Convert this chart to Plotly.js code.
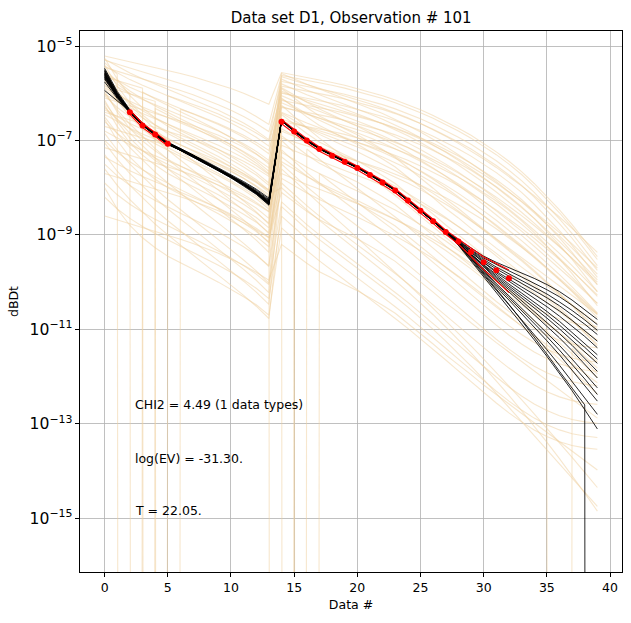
<!DOCTYPE html>
<html>
<head>
<meta charset="utf-8">
<script src="https://cdn.plot.ly/plotly-3.0.1.min.js"></script>
<style>
  html, body { margin: 0; padding: 0; background: #fff; }
  #chart { width: 631px; height: 623px; }
</style>
</head>
<body>
<div id="chart"></div>
<script>
// Gate index (Data #) for the 40 samples: 14 gates of moment 1, 26 gates of moment 2
const gateIndex = Array.from({ length: 40 }, (_, i) => i);

// Observed data (log10 dBDt) and relative standard deviation
const dataIdx = [2, 3, 4, 5, 14, 15, 16, 17, 18, 19, 20, 21, 22, 23, 24, 25, 26, 27, 28, 29, 30, 31, 32];
const dataLog = [-6.40, -6.68, -6.87, -7.07, -6.60, -6.81, -7.00, -7.18, -7.32, -7.45, -7.58, -7.73, -7.89, -8.06,
                 -8.27, -8.49, -8.71, -8.94, -9.14, -9.36, -9.58, -9.75, -9.92];
const dataRelErr = [0.10, 0.10, 0.10, 0.10, 0.10, 0.10, 0.10, 0.10, 0.10, 0.10, 0.10, 0.10, 0.10, 0.10,
                    0.10, 0.10, 0.10, 0.10, 0.12, 0.20, 0.30, 0.40, 0.50];

// Non-positive forward response (clipped to the floor on a log axis)
const N = null;

// Prior realizations, log10 dBDt per gate
const priorLog = [
  [-5.21,-5.27,-5.33,-5.39,-5.45,-5.51,-5.58,-5.65,-5.73,-5.81,-5.90,-6.00,-6.11,-6.23, -5.56,-5.61,-5.66,-5.71,-5.77,-5.83,-5.90,-5.97,-6.05,-6.14,-6.24,-6.35,-6.47,-6.60,-6.74,-6.89,-7.06,-7.24,-7.44,-7.66,-7.91,-8.18,-8.47,-8.78,-9.11,-9.46],
  [-5.30,-5.38,-5.46,-5.54,-5.62,-5.70,-5.79,-5.88,-5.98,-6.09,-6.21,-6.34,-6.49,-6.66, -5.62,-5.67,-5.72,-5.77,-5.83,-5.89,-5.96,-6.03,-6.11,-6.20,-6.30,-6.41,-6.53,-6.66,-6.80,-6.95,-7.12,-7.30,-7.50,-7.72,-7.97,-8.24,-8.53,-8.84,-9.17,-9.52],
  [-5.35,-5.60,N,-5.97,-6.12,-6.26,-6.39,-6.52,-6.65,-6.79,-6.94,-7.10,-7.28,-7.50, -5.70,-5.82,-5.93,-6.03,-6.13,-6.23,-6.33,-6.44,-6.55,-6.67,-6.80,-6.94,-7.09,-7.25,-7.42,-7.60,-7.79,-7.99,-8.20,-8.42,-8.65,-8.89,-9.14,-9.40,-9.67,-9.95],
  [-5.40,-5.85,-6.20,-6.46,-6.67,-6.85,-6.99,-7.12,-7.26,-7.40,-7.55,-7.71,-7.88,-8.10, -5.75,-5.80,-5.85,-5.90,-5.96,-6.02,-6.09,-6.16,-6.24,-6.33,-6.43,-6.54,-6.66,-6.79,-6.93,-7.08,-7.25,-7.43,-7.63,-7.85,-8.10,-8.37,-8.66,-8.97,-9.30,-9.65],
  [-5.45,-5.53,-5.61,-5.69,-5.77,-5.85,-5.94,-6.03,-6.13,-6.24,-6.36,-6.49,-6.64,-6.81, -5.80,-5.92,-6.03,-6.13,-6.23,-6.33,-6.43,-6.54,-6.65,-6.77,-6.90,-7.04,-7.19,-7.35,-7.52,-7.70,-7.89,-8.09,-8.30,-8.52,-8.75,-8.99,-9.24,-9.50,-9.77,-10.05],
  [-5.50,-5.75,-5.95,-6.12,-6.27,-6.41,-6.54,-6.67,-6.80,-6.94,-7.09,-7.25,-7.43,-7.65, -5.85,-5.90,-5.95,-6.00,-6.06,-6.12,-6.19,-6.26,-6.34,-6.43,-6.53,-6.64,-6.76,-6.89,-7.03,-7.18,-7.35,-7.53,-7.73,-7.95,-8.20,-8.47,-8.76,-9.07,-9.40,-9.75],
  [-5.55,-5.80,-6.00,N,-6.32,-6.46,-6.59,-6.72,-6.85,-6.99,-7.14,-7.30,-7.48,-7.70, -5.90,-6.11,-6.30,-6.48,-6.62,-6.75,-6.88,-7.03,-7.19,-7.36,-7.57,-7.79,-8.01,-8.24,-8.44,-8.66,-8.88,-9.08,-9.28,-9.48,-9.68,-9.88,-10.08,-10.28,-10.48,-10.68],
  [-5.60,-5.95,-6.25,-6.52,-6.77,-7.00,-7.22,-7.43,-7.64,-7.85,-8.06,-8.28,-8.51,-8.77, -5.95,-6.07,-6.18,-6.28,-6.38,-6.48,-6.58,-6.69,-6.80,-6.92,-7.05,-7.19,-7.34,-7.50,-7.67,-7.85,-8.04,-8.24,-8.45,-8.67,-8.90,-9.14,-9.39,-9.65,-9.92,-10.20],
  [-5.65,-5.73,-5.81,-5.89,N,-6.05,-6.14,-6.23,-6.33,-6.44,-6.56,-6.69,-6.84,-7.01, -6.00,-6.05,-6.10,-6.15,-6.21,-6.27,-6.34,-6.41,-6.49,-6.58,-6.68,-6.79,-6.91,-7.04,-7.18,-7.33,-7.50,-7.68,-7.88,-8.10,-8.35,-8.62,-8.91,-9.22,-9.55,-9.90],
  [-5.70,-6.15,-6.50,-6.76,-6.97,-7.15,-7.29,-7.42,-7.56,-7.70,-7.85,-8.01,-8.18,-8.40, -6.05,-6.17,-6.28,-6.38,-6.48,-6.58,-6.68,-6.79,-6.90,-7.02,-7.15,-7.29,-7.44,-7.60,-7.77,-7.95,-8.14,-8.34,-8.55,-8.77,-9.00,-9.24,-9.49,-9.75,-10.02,-10.30],
  [-5.75,-6.00,-6.20,-6.37,-6.52,-6.66,-6.79,-6.92,-7.05,-7.19,-7.34,-7.50,-7.68,-7.90, -6.10,-6.31,-6.50,-6.68,-6.82,-6.95,-7.08,-7.23,-7.39,-7.56,-7.77,-7.99,-8.21,-8.44,-8.64,-8.86,-9.08,-9.28,-9.48,-9.68,-9.88,-10.08,-10.28,-10.48,-10.68,-10.88],
  [-5.80,-6.15,-6.45,-6.72,-6.97,-7.20,-7.42,-7.63,-7.84,-8.05,-8.26,-8.48,-8.71,-8.97, -6.15,-6.20,-6.25,-6.30,-6.36,-6.42,-6.49,-6.56,-6.64,-6.73,-6.83,-6.94,-7.06,-7.19,-7.33,-7.48,-7.65,-7.83,-8.03,-8.25,-8.50,-8.77,-9.06,-9.37,-9.70,-10.05],
  [-5.85,-5.93,-6.01,-6.09,-6.17,N,-6.34,-6.43,-6.53,-6.64,-6.76,-6.89,-7.04,-7.21, -6.20,-6.32,-6.43,-6.53,-6.63,-6.73,-6.83,-6.94,-7.05,-7.17,-7.30,-7.44,-7.59,-7.75,-7.92,-8.10,-8.29,-8.49,-8.70,-8.92,-9.15,-9.39,-9.64,-9.90,-10.17,-10.45],
  [-5.90,-6.15,-6.35,-6.52,-6.67,-6.81,-6.94,-7.07,-7.20,-7.34,-7.49,-7.65,-7.83,-8.05, -6.25,-6.50,-6.73,-6.95,-7.16,-7.36,-7.56,-7.76,-7.96,-8.17,-8.38,-8.60,-8.82,-9.05,-9.28,-9.51,-9.74,-9.96,-10.17,-10.36,-10.53,-10.67,-10.78,-10.86,-10.91,-10.94],
  [-5.95,-6.40,-6.75,-7.01,-7.22,-7.40,-7.54,-7.67,-7.81,-7.95,-8.10,-8.26,-8.43,-8.65, -6.30,-6.35,-6.40,-6.45,-6.51,-6.57,-6.64,-6.71,-6.79,-6.88,-6.98,-7.09,-7.21,-7.34,-7.48,-7.63,-7.80,-7.98,-8.18,-8.40,-8.65,-8.92,-9.21,-9.52,-9.85,-10.20],
  [-6.00,-6.35,-6.65,-6.92,-7.17,-7.40,-7.62,-7.83,-8.04,-8.25,-8.46,-8.68,-8.91,-9.17, -6.40,-6.52,-6.63,-6.73,-6.83,-6.93,-7.03,-7.14,-7.25,-7.37,-7.50,-7.64,-7.79,-7.95,-8.12,-8.30,-8.49,-8.69,-8.90,-9.12,-9.35,-9.59,-9.84,-10.10,-10.37,-10.65],
  [-6.05,-6.30,-6.50,-6.67,-6.82,-6.96,-7.09,-7.22,-7.35,-7.49,-7.64,-7.80,-7.98,-8.20, -6.45,-6.66,-6.85,-7.03,-7.17,-7.30,-7.43,-7.58,-7.74,-7.91,-8.12,-8.34,-8.56,-8.79,-8.99,-9.21,-9.43,-9.63,-9.83,-10.03,-10.23,-10.43,-10.63,-10.83,-11.03,-11.23],
  [-6.10,-6.18,-6.26,-6.34,-6.42,-6.50,-6.59,-6.68,-6.78,-6.89,-7.01,-7.14,-7.29,-7.46, N,-6.62,-6.73,-6.83,-6.93,-7.03,-7.13,-7.24,-7.35,-7.47,-7.60,-7.74,-7.89,-8.05,-8.22,-8.40,-8.59,-8.79,-9.00,-9.22,-9.45,-9.69,-9.94,-10.20,-10.47,-10.75],
  [-6.20,-6.55,-6.85,-7.12,-7.37,-7.60,-7.82,-8.03,-8.24,-8.45,-8.66,-8.88,-9.11,-9.37, -6.60,-6.65,-6.70,-6.75,-6.81,-6.87,-6.94,-7.01,-7.09,-7.18,-7.28,-7.39,-7.51,-7.64,-7.78,-7.93,-8.10,-8.28,-8.48,-8.70,-8.95,-9.22,-9.51,-9.82,-10.15,-10.50],
  [-6.30,-6.55,-6.75,-6.92,-7.07,-7.21,-7.34,-7.47,-7.60,-7.74,-7.89,-8.05,-8.23,-8.45, -6.70,N,-7.18,-7.40,-7.61,-7.81,-8.01,-8.21,-8.41,-8.62,-8.83,-9.05,-9.27,-9.50,-9.73,-9.96,-10.19,-10.41,-10.62,-10.81,-10.98,-11.12,-11.23,-11.31,-11.36,-11.39],
  [-6.40,-6.48,-6.56,-6.64,-6.72,-6.80,-6.89,-6.98,-7.08,-7.19,-7.31,-7.44,-7.59,-7.76, -6.80,-6.92,-7.03,-7.13,-7.23,-7.33,-7.43,-7.54,-7.65,-7.77,-7.90,-8.04,-8.19,-8.35,-8.52,-8.70,-8.89,-9.09,-9.30,-9.52,-9.75,-9.99,-10.24,-10.50,-10.77,-11.05],
  [-6.50,-6.85,-7.15,-7.42,-7.67,-7.90,-8.12,-8.33,-8.54,-8.75,-8.96,-9.18,-9.41,-9.67, -6.90,-7.11,-7.30,-7.48,-7.62,-7.75,-7.88,-8.03,-8.19,-8.36,-8.57,-8.79,-9.01,-9.24,-9.44,-9.66,-9.88,-10.08,-10.28,-10.48,-10.68,-10.88,-11.08,-11.28,-11.48,-11.68],
  [-6.60,-6.85,-7.05,-7.22,-7.37,-7.51,-7.64,-7.77,-7.90,-8.04,-8.19,-8.35,-8.53,-8.75, -7.00,-7.25,N,-7.70,-7.91,-8.11,-8.31,-8.51,-8.71,-8.92,-9.13,-9.35,-9.57,-9.80,-10.03,-10.26,-10.49,-10.71,-10.92,-11.11,-11.28,-11.42,-11.53,-11.61,-11.66,-11.69],
  [-6.70,-6.78,-6.86,-6.94,-7.02,-7.10,-7.19,-7.28,-7.38,-7.49,-7.61,-7.74,-7.89,-8.06, -7.10,-7.22,-7.33,-7.43,-7.53,-7.63,-7.73,-7.84,-7.95,-8.07,-8.20,-8.34,-8.49,-8.65,-8.82,-9.00,-9.19,-9.39,-9.60,-9.82,-10.05,-10.29,-10.54,-10.80,-11.07,-11.35],
  [-6.85,-7.20,-7.50,-7.77,-8.02,-8.25,-8.47,-8.68,-8.89,-9.10,-9.31,-9.53,-9.76,-10.02, -7.20,-7.45,-7.68,-7.90,-8.11,-8.31,-8.51,-8.71,-8.91,-9.12,-9.33,-9.55,-9.77,-10.00,-10.23,-10.46,-10.69,-10.91,-11.12,-11.31,-11.48,-11.62,-11.73,-11.81,-11.86,-11.89],
  [-7.00,-7.25,-7.45,-7.62,-7.77,-7.91,-8.04,-8.17,-8.30,-8.44,-8.59,-8.75,-8.93,-9.15, -7.35,-7.56,-7.75,-7.93,-8.07,-8.20,-8.33,-8.48,-8.64,-8.81,-9.02,-9.24,-9.46,-9.69,-9.89,-10.11,-10.33,-10.53,-10.73,-10.93,-11.13,-11.33,-11.53,-11.73,-11.93,-12.13],
  [-7.15,-7.23,-7.31,-7.39,-7.47,-7.55,-7.64,-7.73,-7.83,-7.94,-8.06,-8.19,-8.34,-8.51, -7.50,-7.75,-7.98,-8.20,-8.41,-8.61,-8.81,-9.01,-9.21,-9.42,-9.63,-9.85,-10.07,-10.30,-10.53,-10.76,-10.99,-11.21,-11.42,-11.61,-11.78,-11.92,-12.03,-12.11,-12.16,-12.19],
  [-7.30,-7.65,-7.95,-8.22,-8.47,-8.70,-8.92,-9.13,-9.34,-9.55,-9.76,-9.98,-10.21,-10.47, -7.70,-7.82,-7.93,-8.03,-8.13,-8.23,-8.33,-8.44,-8.55,-8.67,-8.80,-8.94,-9.09,-9.25,-9.42,-9.60,-9.79,-9.99,-10.20,-10.42,-10.65,-10.89,N,-11.40,-11.67,-11.95],
  [-7.50,-7.75,-7.95,-8.12,-8.27,-8.41,-8.54,-8.67,-8.80,-8.94,-9.09,-9.25,-9.43,-9.65, -7.90,-8.15,-8.38,-8.60,-8.81,-9.01,-9.21,-9.41,-9.61,-9.82,-10.03,-10.25,-10.47,-10.70,-10.93,-11.16,-11.39,-11.61,-11.82,-12.01,-12.18,-12.32,-12.43,-12.51,-12.56,-12.59],
  [-7.70,-7.78,-7.86,-7.94,-8.02,-8.10,-8.19,-8.28,-8.38,-8.49,-8.61,-8.74,-8.89,-9.06, -8.10,-8.31,-8.50,-8.68,-8.82,-8.95,-9.08,-9.23,-9.39,-9.56,-9.77,-9.99,-10.21,-10.44,-10.64,-10.86,-11.08,-11.28,-11.48,-11.68,-11.88,-12.08,-12.28,-12.48,-12.68,-12.88],
  [-7.90,-8.15,-8.35,-8.52,-8.67,-8.81,-8.94,-9.07,-9.20,-9.34,-9.49,-9.65,-9.83,-10.05, -8.30,-8.55,-8.78,-9.00,-9.21,-9.41,-9.61,-9.81,-10.01,-10.22,-10.43,-10.65,-10.87,-11.10,-11.33,-11.56,-11.79,-12.01,-12.22,-12.41,-12.58,-12.72,-12.83,-12.91,-12.96,-12.99],
  [-8.20,-8.45,-8.65,-8.82,-8.97,-9.11,-9.24,-9.37,-9.50,-9.64,-9.79,-9.95,-10.13,-10.35, -8.60,-8.85,-9.08,-9.30,-9.51,-9.71,-9.91,-10.11,-10.31,-10.52,-10.73,-10.95,-11.17,-11.40,-11.63,-11.86,-12.09,-12.31,-12.52,-12.71,-12.88,-13.02,-13.13,-13.21,-13.26,-13.29],
  [-8.60,-8.68,-8.76,-8.84,-8.92,-9.00,-9.09,-9.18,-9.28,-9.39,-9.51,-9.64,-9.79,-9.96, -9.20,-9.41,-9.60,-9.78,-9.92,-10.05,-10.18,-10.33,-10.49,-10.66,-10.87,-11.09,-11.31,-11.54,-11.74,-11.96,-12.18,-12.38,-12.58,-12.78,-12.98,-13.18,-13.38,-13.58,-13.78,-13.98],
  [-7.60,-7.95,-8.25,-8.52,-8.77,-9.00,-9.22,-9.43,-9.64,-9.85,-10.06,-10.28,-10.51,-10.77, -8.40,-8.65,-8.88,-9.10,-9.30,-9.50,-9.70,-9.90,-10.10,-10.31,-10.53,-10.76,-11.00,-11.25,-11.51,-11.78,-12.06,-12.35,-12.65,-12.95,-13.25,-13.55,-13.85,-14.15,-14.45,-14.75],
  [-6.25,-6.70,-7.05,-7.31,-7.52,-7.70,-7.84,-7.97,-8.11,-8.25,-8.40,-8.56,-8.73,-8.95, -7.60,-7.85,-8.10,-8.34,-8.58,-8.82,-9.06,-9.30,-9.54,-9.79,-10.04,-10.29,-10.55,-10.81,-11.08,-11.35,-11.63,-11.91,-12.20,-12.49,-12.79,-13.09,-13.40,-13.71,-14.03,-14.35],
  [-5.28,-5.43,-5.57,-5.69,-5.80,-5.91,-6.02,-6.13,-6.24,-6.36,-6.49,-6.63,-6.79,-6.98, -5.65,-5.73,-5.81,-5.89,-5.97,-6.05,-6.13,-6.22,-6.31,-6.41,-6.52,-6.64,-6.77,-6.91,-7.06,-7.22,-7.39,-7.57,-7.76,-7.96,-8.17,-8.39,-8.62,-8.86,-9.11,-9.37],
  [-5.42,-5.57,-5.71,-5.83,-5.94,-6.05,-6.16,-6.27,-6.38,-6.50,-6.63,-6.77,-6.93,-7.12, -5.88,-6.04,-6.19,-6.33,-6.46,-6.58,-6.70,-6.83,-6.96,-7.10,-7.25,-7.41,-7.58,-7.76,-7.95,-8.15,-8.36,-8.57,-8.79,-9.01,-9.24,-9.47,-9.71,-9.95,-10.20,-10.45],
  [-5.58,-5.73,-5.87,-5.99,-6.10,-6.21,-6.32,-6.43,-6.54,-6.66,-6.79,-6.93,-7.09,-7.28, -5.98,-6.06,-6.14,-6.22,-6.30,-6.38,-6.46,-6.55,-6.64,-6.74,-6.85,-6.97,-7.10,-7.24,-7.39,-7.55,-7.72,-7.90,-8.09,-8.29,-8.50,-8.72,-8.95,-9.19,-9.44,-9.70],
  [-5.72,-5.87,-6.01,-6.13,-6.24,-6.35,-6.46,-6.57,-6.68,-6.80,-6.93,-7.07,-7.23,-7.42, -6.12,-6.28,-6.43,-6.57,-6.70,-6.82,-6.94,-7.07,-7.20,-7.34,-7.49,-7.65,-7.82,-8.00,-8.19,-8.39,-8.60,-8.81,-9.03,-9.25,-9.48,-9.71,-9.95,-10.19,-10.44,-10.69],
  [-5.88,-6.03,-6.17,-6.29,-6.40,-6.51,-6.62,-6.73,-6.84,-6.96,-7.09,-7.23,-7.39,-7.58, -6.28,-6.36,-6.44,-6.52,-6.60,-6.68,-6.76,-6.85,-6.94,-7.04,-7.15,-7.27,-7.40,-7.54,-7.69,-7.85,-8.02,-8.20,-8.39,-8.59,-8.80,-9.02,-9.25,-9.49,-9.74,-10.00],
  [-6.02,-6.17,-6.31,-6.43,-6.54,-6.65,-6.76,-6.87,-6.98,-7.10,-7.23,-7.37,-7.53,-7.72, -6.42,-6.58,-6.73,-6.87,-7.00,-7.12,-7.24,-7.37,-7.50,-7.64,-7.79,-7.95,-8.12,-8.30,-8.49,-8.69,-8.90,-9.11,-9.33,-9.55,-9.78,-10.01,-10.25,-10.49,-10.74,-10.99],
  [-6.15,-6.60,-6.95,-7.21,-7.42,-7.60,-7.74,-7.87,-8.01,-8.15,-8.30,-8.46,-8.63,-8.85, -6.55,-6.63,-6.71,-6.79,-6.87,-6.95,-7.03,-7.12,-7.21,-7.31,-7.42,-7.54,-7.67,-7.81,-7.96,-8.12,-8.29,-8.47,-8.66,-8.86,-9.07,-9.29,-9.52,-9.76,-10.01,-10.27],
  [-6.35,-6.50,-6.64,-6.76,-6.87,-6.98,-7.09,-7.20,-7.31,-7.43,-7.56,-7.70,-7.86,-8.05, -6.75,-6.91,-7.06,-7.20,-7.33,-7.45,-7.57,-7.70,-7.83,-7.97,-8.12,-8.28,-8.45,-8.63,-8.82,-9.02,-9.23,-9.44,-9.66,-9.88,-10.11,-10.34,-10.58,-10.82,-11.07,-11.32],
  [-6.55,-7.00,-7.35,-7.61,-7.82,-8.00,-8.14,-8.27,-8.41,-8.55,-8.70,-8.86,-9.03,-9.25, -6.95,-7.03,-7.11,-7.19,-7.27,-7.35,-7.43,-7.52,-7.61,-7.71,-7.82,-7.94,-8.07,-8.21,-8.36,-8.52,-8.69,-8.87,-9.06,-9.26,-9.47,-9.69,-9.92,-10.16,-10.41,-10.67],
  [-6.80,-6.95,-7.09,-7.21,-7.32,-7.43,-7.54,-7.65,-7.76,-7.88,-8.01,-8.15,-8.31,-8.50, -7.25,-7.41,-7.56,-7.70,-7.83,-7.95,-8.07,-8.20,-8.33,-8.47,-8.62,-8.78,-8.95,-9.13,-9.32,-9.52,-9.73,-9.94,-10.16,-10.38,-10.61,-10.84,-11.08,-11.32,-11.57,-11.82],
  [-7.05,-7.40,-7.70,-7.97,-8.22,-8.45,-8.67,-8.88,-9.09,-9.30,-9.51,-9.73,-9.96,-10.22, -7.45,-7.61,-7.76,-7.90,-8.03,-8.15,-8.27,-8.40,-8.53,-8.67,-8.82,-8.98,-9.15,-9.33,-9.52,-9.72,-9.93,-10.14,-10.36,-10.58,-10.81,-11.04,-11.28,-11.52,-11.77,-12.02],
  [-7.35,-7.50,-7.64,-7.76,-7.87,-7.98,-8.09,-8.20,-8.31,-8.43,-8.56,-8.70,-8.86,-9.05, -7.80,-7.96,-8.11,-8.25,-8.38,-8.50,-8.62,-8.75,-8.88,-9.02,-9.17,-9.33,-9.50,-9.68,-9.87,-10.07,-10.28,-10.49,-10.71,-10.93,-11.16,-11.39,-11.63,-11.87,-12.12,-12.37],
  [-8.00,-8.45,-8.80,-9.06,-9.27,-9.45,-9.59,-9.72,-9.86,-10.00,-10.15,-10.31,-10.48,-10.70, -8.85,-9.10,-9.33,-9.55,-9.76,-9.96,-10.16,-10.36,-10.56,-10.77,-10.98,-11.20,-11.42,-11.65,-11.88,-12.11,-12.34,-12.56,-12.77,-12.96,-13.13,-13.27,-13.38,-13.46,-13.51,-13.54],
  [-6.45,-6.60,-6.74,-6.86,-6.97,-7.08,-7.19,-7.30,-7.41,-7.53,-7.66,-7.80,-7.96,-8.15, -8.00,-8.24,-8.47,-8.69,-8.90,-9.11,-9.32,-9.53,-9.75,-9.97,-10.20,-10.44,-10.69,-10.95,-11.22,-11.50,-11.79,-12.09,-12.40,-12.72,-13.05,-13.39,-13.74,-14.10,-14.47,-14.85],
  [-5.25,-5.70,-6.05,-6.31,-6.52,-6.70,-6.84,-6.97,-7.11,-7.25,-7.40,-7.56,-7.73,-7.95, -5.58,-5.70,-5.81,-5.91,-6.01,-6.11,-6.21,-6.32,-6.43,-6.55,-6.68,-6.82,-6.97,-7.13,-7.30,-7.48,-7.67,-7.87,-8.08,-8.30,-8.53,-8.77,-9.02,-9.28,-9.55,-9.83]
];

// Posterior realizations, log10 dBDt per gate
const posteriorLog = [
  [-5.47,-5.96,-6.35,-6.63,-6.85,-7.04,-7.17,-7.30,-7.44,-7.58,-7.72,-7.87,-8.03,-8.22, -6.55,-6.78,-6.98,-7.15,-7.29,-7.42,-7.55,-7.70,-7.86,-8.03,-8.24,-8.46,-8.68,-8.91,-9.10,-9.28,-9.45,-9.58,-9.69,-9.80,-9.92,-10.05,-10.20,-10.38,-10.58,-10.79],
  [-5.50,-5.99,-6.36,-6.64,-6.85,-7.04,-7.17,-7.31,-7.45,-7.59,-7.74,-7.89,-8.05,-8.25, -6.56,-6.79,-6.99,-7.16,-7.30,-7.43,-7.56,-7.71,-7.87,-8.04,-8.25,-8.47,-8.69,-8.92,-9.12,-9.31,-9.49,-9.63,-9.76,-9.89,-10.02,-10.16,-10.31,-10.49,-10.69,-10.90],
  [-5.52,-6.00,-6.37,-6.64,-6.86,-7.05,-7.18,-7.31,-7.46,-7.60,-7.75,-7.90,-8.07,-8.27, -6.57,-6.80,-7.00,-7.17,-7.31,-7.44,-7.57,-7.72,-7.88,-8.05,-8.26,-8.48,-8.70,-8.93,-9.13,-9.33,-9.52,-9.68,-9.82,-9.96,-10.10,-10.25,-10.42,-10.60,-10.80,-11.02],
  [-5.55,-6.02,-6.38,-6.65,-6.86,-7.05,-7.18,-7.32,-7.46,-7.61,-7.76,-7.92,-8.09,-8.30, -6.57,-6.80,-7.00,-7.17,-7.31,-7.44,-7.57,-7.72,-7.88,-8.05,-8.26,-8.48,-8.70,-8.93,-9.14,-9.35,-9.55,-9.72,-9.87,-10.02,-10.17,-10.33,-10.50,-10.69,-10.89,-11.11],
  [-5.57,-6.04,-6.39,-6.66,-6.87,-7.06,-7.19,-7.32,-7.47,-7.61,-7.76,-7.92,-8.09,-8.31, -6.58,-6.81,-7.01,-7.18,-7.32,-7.45,-7.58,-7.73,-7.89,-8.06,-8.27,-8.49,-8.71,-8.94,-9.15,-9.37,-9.58,-9.77,-9.94,-10.10,-10.26,-10.43,-10.61,-10.81,-11.02,-11.25],
  [-5.60,-6.05,-6.39,-6.66,-6.87,-7.06,-7.19,-7.33,-7.47,-7.62,-7.77,-7.93,-8.10,-8.32, -6.57,-6.80,-7.00,-7.17,-7.31,-7.44,-7.57,-7.72,-7.88,-8.05,-8.26,-8.48,-8.70,-8.93,-9.15,-9.38,-9.60,-9.80,-9.98,-10.16,-10.34,-10.52,-10.72,-10.93,-11.15,-11.39],
  [-5.62,-6.06,-6.40,-6.67,-6.88,-7.07,-7.20,-7.33,-7.48,-7.62,-7.77,-7.93,-8.11,-8.33, -6.58,-6.81,-7.01,-7.18,-7.32,-7.45,-7.58,-7.73,-7.89,-8.06,-8.27,-8.49,-8.71,-8.94,-9.16,-9.40,-9.63,-9.84,-10.04,-10.23,-10.42,-10.62,-10.83,-11.06,-11.29,-11.54],
  [-5.65,-6.07,-6.40,-6.67,-6.88,-7.07,-7.20,-7.34,-7.48,-7.63,-7.78,-7.94,-8.12,-8.34, -6.57,-6.80,-7.00,-7.17,-7.31,-7.44,-7.57,-7.72,-7.88,-8.05,-8.26,-8.48,-8.70,-8.93,-9.16,-9.41,-9.65,-9.87,-10.08,-10.28,-10.48,-10.69,-10.91,-11.14,-11.38,-11.63],
  [-5.68,-6.08,-6.41,-6.68,-6.89,-7.08,-7.21,-7.34,-7.49,-7.63,-7.78,-7.94,-8.12,-8.35, -6.56,-6.79,-6.99,-7.16,-7.30,-7.43,-7.56,-7.71,-7.87,-8.04,-8.25,-8.47,-8.70,-8.94,-9.17,-9.42,-9.67,-9.90,-10.12,-10.33,-10.54,-10.76,-10.99,-11.23,-11.47,-11.72],
  [-5.70,-6.09,-6.41,-6.68,-6.89,-7.08,-7.21,-7.35,-7.49,-7.64,-7.79,-7.95,-8.13,-8.36, -6.57,-6.80,-7.00,-7.17,-7.31,-7.44,-7.57,-7.72,-7.88,-8.05,-8.26,-8.48,-8.70,-8.93,-9.17,-9.43,-9.69,-9.93,-10.16,-10.39,-10.62,-10.85,-11.09,-11.34,-11.61,-11.89],
  [-5.53,-6.01,-6.37,-6.65,-6.86,-7.05,-7.18,-7.31,-7.46,-7.60,-7.75,-7.91,-8.08,-8.28, -6.57,-6.80,-7.00,-7.17,-7.31,-7.44,-7.57,-7.72,-7.88,-8.05,-8.26,-8.48,-8.70,-8.93,-9.18,-9.45,-9.72,-9.97,-10.21,-10.45,-10.69,-10.93,-11.18,-11.45,-11.74,-12.03],
  [-5.58,-6.04,-6.38,-6.65,-6.86,-7.05,-7.18,-7.32,-7.46,-7.61,-7.76,-7.92,-8.09,-8.30, -6.58,-6.81,-7.01,-7.18,-7.32,-7.45,-7.58,-7.73,-7.89,-8.06,-8.27,-8.49,-8.71,-8.94,-9.19,-9.47,-9.76,-10.03,-10.29,-10.55,-10.81,-11.07,-11.34,-11.63,-11.93,-12.24],
  [-5.76,-6.11,-6.42,-6.68,-6.89,-7.08,-7.21,-7.35,-7.50,-7.64,-7.79,-7.96,-8.14,-8.37, -6.57,-6.80,-7.00,-7.17,-7.31,-7.44,-7.57,-7.72,-7.88,-8.05,-8.26,-8.48,-8.70,-8.93,-9.20,-9.50,-9.81,-10.10,-10.38,-10.66,-10.95,-11.24,-11.54,-11.86,-12.18,-12.52],
  [-5.94,-6.16,-6.38,-6.65,-6.86,-7.05,-7.19,-7.32,-7.47,-7.61,-7.76,-7.92,-8.10,-8.31, -6.57,-6.80,-7.00,-7.17,-7.31,-7.44,-7.57,-7.72,-7.88,-8.05,-8.26,-8.48,-8.71,-8.95,-9.21,-9.53,-9.86,-10.17,-10.48,-10.79,-11.11,-11.43,-11.76,-12.10,-12.45,-12.80],
  [-5.63,-6.06,-6.39,-6.66,-6.87,-7.06,-7.19,-7.33,-7.47,-7.62,-7.77,-7.93,-8.11,-8.32, -6.57,-6.80,-7.00,-7.17,-7.31,-7.44,-7.57,-7.72,-7.88,-8.05,-8.26,-8.48,-8.70,-8.93,-9.22,-9.55,-9.89,-10.22,-10.55,-10.88,-11.22,-11.57,-11.93,-12.30,-12.70,-13.11],
  [-5.60,-6.05,-6.39,-6.66,-6.87,-7.06,-7.19,-7.32,-7.47,-7.61,-7.76,-7.92,-8.10,-8.31, -6.57,-6.80,-7.00,-7.17,-7.31,-7.44,-7.57,-7.72,-7.88,-8.05,-8.26,-8.48,-8.70,-8.93,-9.19,-9.48,-9.78,-10.06,-10.33,-10.60,-10.87,-11.15,-11.44,-11.74,-12.05,-12.38],
  [-5.66,-6.07,-6.40,-6.67,-6.88,-7.07,-7.20,-7.34,-7.48,-7.62,-7.77,-7.93,-8.11,-8.33, -6.57,-6.80,-7.00,-7.17,-7.31,-7.44,-7.57,-7.72,-7.88,-8.05,-8.26,-8.48,-8.70,-8.93,-9.20,-9.50,-9.82,-10.14,-10.47,-10.81,-11.16,-11.52,-11.89,-12.25,-12.60,N]
];

// Summary statistics printed in the panel
const statLines = ['CHI2 = 4.49 (1 data types)', 'log(EV) = -31.30.', 'T = 22.05.'];
const statY = [0.31, 0.21, 0.113];

// log10 -> linear, with non-positive responses clipped far below the axis floor
const FLOOR = 1e-300;
const toLin = arr => arr.map(v => (v === null ? FLOOR : Math.pow(10, v)));

const traces = [];

// Prior realizations
priorLog.forEach(curve => {
  traces.push({
    type: 'scatter', mode: 'lines', x: gateIndex, y: toLin(curve),
    line: { color: 'rgba(240,208,158,0.5)', width: 1.1 },
    hoverinfo: 'skip', showlegend: false
  });
});

// Posterior realizations
posteriorLog.forEach(curve => {
  traces.push({
    type: 'scatter', mode: 'lines', x: gateIndex, y: toLin(curve),
    line: { color: 'rgba(0,0,0,0.85)', width: 1 },
    hoverinfo: 'skip', showlegend: false
  });
});

// Observed data on the full gate grid (gaps where no data)
const obsY = gateIndex.map(() => null);
const obsUp = gateIndex.map(() => null);
const obsLo = gateIndex.map(() => null);
dataIdx.forEach((g, k) => {
  const d = Math.pow(10, dataLog[k]);
  obsY[g] = d;
  obsUp[g] = d * (1 + dataRelErr[k]);
  obsLo[g] = d * (1 - dataRelErr[k]);
});

// +/- one standard deviation envelope of the data
[obsUp, obsLo].forEach(b => traces.push({
  type: 'scatter', mode: 'lines', x: gateIndex, y: b, connectgaps: false,
  line: { color: 'red', width: 1.1 }, hoverinfo: 'skip', showlegend: false
}));

// Data points on top
traces.push({
  type: 'scatter', mode: 'markers', x: gateIndex, y: obsY,
  marker: { color: 'red', size: 6 },
  showlegend: false
});

const font = { family: 'DejaVu Sans, sans-serif', size: 12.5, color: '#000' };

const layout = {
  width: 631, height: 623,
  margin: { l: 80, r: 9, t: 31, b: 51 },
  paper_bgcolor: '#fff', plot_bgcolor: '#fff',
  font: font,
  title: { text: 'Data set D1, Observation # 101', x: 0.5565, xanchor: 'center', y: 0.972, yanchor: 'middle',
           font: { family: 'DejaVu Sans, sans-serif', size: 15, color: '#000' } },
  xaxis: {
    range: [-1.95, 40.95], tick0: 0, dtick: 5, zeroline: false,
    showgrid: true, gridcolor: '#b0b0b0', gridwidth: 0.8,
    showline: true, linecolor: '#000', linewidth: 1, mirror: true,
    ticks: 'outside', ticklen: 4, tickcolor: '#000',
    title: { text: 'Data #', standoff: 6, font: font }
  },
  yaxis: {
    type: 'log', range: [-16.14, -4.68], tick0: -15, dtick: 2, exponentformat: 'power',
    showgrid: true, gridcolor: '#b0b0b0', gridwidth: 0.8, zeroline: false,
    showline: true, linecolor: '#000', linewidth: 1, mirror: true,
    ticks: 'outside', ticklen: 4, tickcolor: '#000',
    title: { text: 'dBDt', standoff: 8, font: font }
  },
  annotations: statLines.map((t, i) => ({
    text: t, xref: 'paper', yref: 'paper', x: 0.098, y: statY[i],
    xanchor: 'left', yanchor: 'middle', showarrow: false, font: font
  }))
};

Plotly.newPlot('chart', traces, layout, { staticPlot: true, displayModeBar: false });
</script>
</body>
</html>
